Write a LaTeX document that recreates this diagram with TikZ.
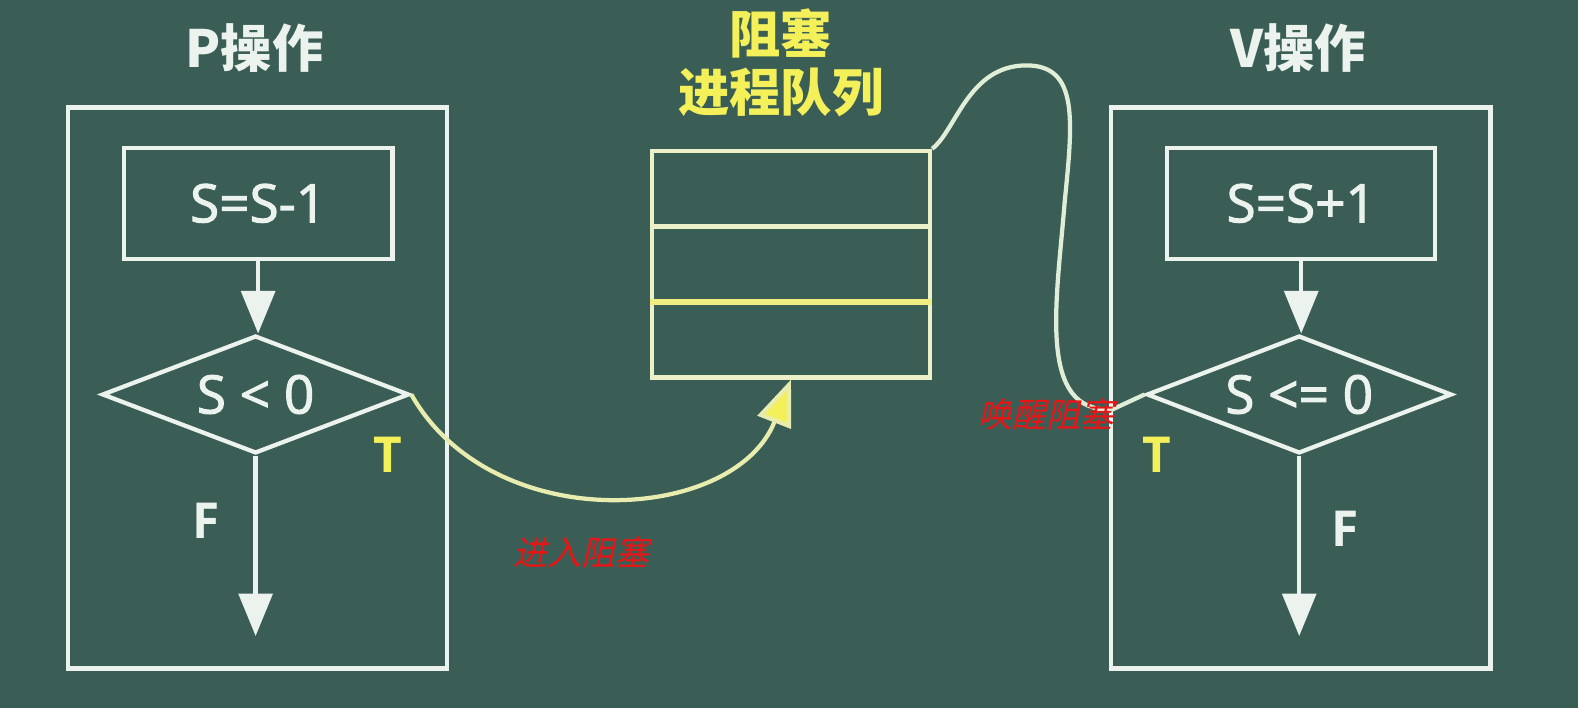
\documentclass[tikz,border=0pt]{standalone}
\usepackage{fontspec}
\setmainfont{Open Sans}
\newfontfamily\opfont[FakeBold=2]{Open Sans}
\newfontfamily\cjk{Noto Sans CJK SC}
\newfontfamily\cjkit[FakeSlant=0.22]{Noto Sans CJK SC}
\usetikzlibrary{shapes.geometric,arrows.meta}
\definecolor{board}{RGB}{58,94,86}
\definecolor{chalk}{RGB}{236,243,238}
\definecolor{cream}{RGB}{236,240,200}
\definecolor{qyellow}{RGB}{240,238,130}
\definecolor{tyellow}{RGB}{244,240,90}
\definecolor{redlab}{RGB}{235,20,20}
\definecolor{curveW}{RGB}{225,238,215}
\definecolor{curveY}{RGB}{232,236,175}
\tikzset{
  x=0.01cm, y=-0.01cm,
  frame/.style={draw=chalk, line width=1.2pt, rectangle, inner sep=0pt},
  opbox/.style={frame, font=\opfont\fontsize{15}{18}\selectfont, text=chalk},
  dia/.style={draw=chalk, line width=1.2pt, diamond, inner sep=0pt},
  diatext/.style={font=\opfont\fontsize{15}{18}\selectfont, text=chalk},
  arr/.style={draw=chalk, line width=1.2pt, -{Triangle[width=9.5pt,length=12pt,fill=chalk]}},
  title/.style={font=\cjk\bfseries\fontsize{14.5}{16}\selectfont, text=chalk},
  ytitle/.style={font=\cjk\bfseries\fontsize{14.5}{16}\selectfont, text=tyellow},
  tf/.style={font=\bfseries\fontsize{14}{16}\selectfont},
  redl/.style={font=\cjkit\fontsize{9.6}{11}\selectfont, text=redlab},
  qline/.style={draw=cream, line width=1.2pt}
}
\begin{document}
\begin{tikzpicture}
\fill[board] (0,0) rectangle (1568,704);
\useasboundingbox (0,0) rectangle (1568,704);

% ---- P operation ----
\node[title] (ptitle) at (253,48) {P操作};
\node[frame, minimum width=3.76cm, minimum height=5.57cm] (pbox) at (256,385.5) {};
\node[opbox, minimum width=2.67cm, minimum height=1.10cm] (p1) at (256.5,202) {S=S-1};
\node[dia, minimum width=3.05cm, minimum height=1.17cm, label={[diatext]center:S < 0}] (pd) at (254,392) {};
\coordinate (pend) at (254,632);
\draw[arr] (p1.south) -- (p1.south |- pd.north);
\draw[arr] (pd.south) -- (pend);
\node[tf, text=tyellow] (pt) at (385,452) {T};
\node[tf, text=chalk] (pf) at (205,518) {F};

% ---- V operation ----
\node[title] (vtitle) at (1290,48) {V操作};
\node[frame, minimum width=3.77cm, minimum height=5.57cm] (vbox) at (1292.5,385.5) {};
\node[opbox, minimum width=2.66cm, minimum height=1.10cm] (v1) at (1293,202) {S=S+1};
\node[dia, minimum width=3.03cm, minimum height=1.17cm, label={[diatext]center:S <= 0}] (vd) at (1291,392) {};
\coordinate (vend) at (1291,632);
\draw[arr] (v1.south) -- (v1.south |- vd.north);
\draw[arr] (vd.south) -- (vend);
\node[tf, text=tyellow] (vt) at (1150,452) {T};
\node[tf, text=chalk] (vf) at (1337,525) {F};

% ---- blocked queue ----
\node[ytitle] (qt1) at (776,33) {阻塞};
\node[ytitle] (qt2) at (776,92) {进程队列};
\node[draw=cream, line width=1.2pt, rectangle, inner sep=0pt, minimum width=2.76cm, minimum height=2.25cm] (q) at (786,262.5) {};
\draw[qline] (q.west |- 0,225) -- (q.east |- 0,225);
\draw[draw=qyellow, line width=1.6pt] (q.west |- 0,300) -- (q.east |- 0,300);

% ---- connectors ----
\draw[draw=curveY, line width=1.2pt, -{Triangle[width=10pt,length=13pt,fill=tyellow]}]
  (pd.east) .. controls (490,535) and (730,520) .. (q.south);
\node[redl] (lin) at (578,549) {进入阻塞};

\coordinate (c1) at (1020,65);
\coordinate (c2) at (1058,200);
\coordinate (c3) at (1105,407);
\draw[draw=curveW, line width=1.2pt]
  (q.north east) .. controls (950,130) and (962,65) .. (c1)
  .. controls (1072,65) and (1066,120) .. (c2)
  .. controls (1050,300) and (1030,410) .. (c3) -- (vd.west);
\node[redl] (lwake) at (1040,412) {唤醒阻塞};
\end{tikzpicture}
\end{document}
